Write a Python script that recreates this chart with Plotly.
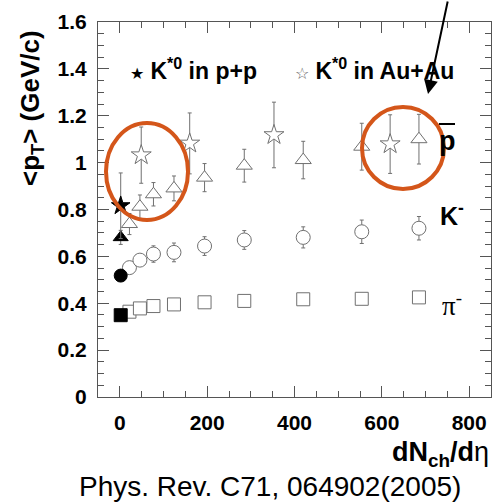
import plotly.graph_objects as go

# ---- data ----
x_pp = [2]
kstar_pp = [0.816]; kstar_pp_err = [0.14]
pbar_pp = [0.681]; pbar_pp_err = [0.03]
kminus_pp = [0.518]; kminus_pp_err = [0.02]
pion_pp = [0.349]; pion_pp_err = [0.01]

x_aa = [22, 46, 77, 124, 194, 285, 420, 554, 685]
pbar_aa = [0.738, 0.812, 0.865, 0.890, 0.936, 0.987, 1.011, 1.068, 1.100]
pbar_aa_err = [0.045, 0.05, 0.05, 0.053, 0.06, 0.07, 0.08, 0.10, 0.106]
kminus_aa = [0.552, 0.584, 0.610, 0.617, 0.644, 0.670, 0.681, 0.705, 0.720]
kminus_aa_err = [0.015, 0.02, 0.035, 0.04, 0.04, 0.04, 0.045, 0.05, 0.05]
pion_aa = [0.364, 0.378, 0.388, 0.395, 0.404, 0.410, 0.417, 0.419, 0.425]
pion_aa_err = [0.005] * 9

x_kstar_aa = [49, 160, 353, 619]
kstar_aa = [1.032, 1.082, 1.118, 1.079]
kstar_aa_err = [0.12, 0.13, 0.14, 0.125]

x_ticks = [0, 200, 400, 600, 800]
x_ticklabels = ["0", "200", "400", "600", "800"]
y_ticks = [0, 0.2, 0.4, 0.6, 0.8, 1.0, 1.2, 1.4, 1.6]
y_ticklabels = ["0", "0.2", "0.4", "0.6", "0.8", "1", "1.2", "1.4", "1.6"]

W, H = 496, 504
L, R, T, B = 98, 491, 22, 397


def px(x):
    return (x - L) / (R - L)


def py(y):
    return (B - y) / (B - T)


GRAY = "#707070"
fig = go.Figure()


def add(x, y, err, symbol, size, filled):
    fig.add_trace(go.Scatter(
        x=x, y=y, mode="markers",
        error_y=dict(type="data", array=err, color=GRAY, thickness=1, width=2),
        marker=dict(symbol=symbol, size=size,
                    color="black" if filled else "white",
                    line=dict(color="black" if filled else GRAY, width=1)),
        showlegend=False, cliponaxis=False))


add(x_aa, pion_aa, pion_aa_err, "square", 13, False)
add(x_aa, kminus_aa, kminus_aa_err, "circle", 14, False)
add(x_aa, pbar_aa, pbar_aa_err, "triangle-up", 14, False)
add(x_kstar_aa, kstar_aa, kstar_aa_err, "star", 15, False)
add(x_pp, pion_pp, pion_pp_err, "square", 13, True)
add(x_pp, kminus_pp, kminus_pp_err, "circle", 13, True)
add(x_pp, pbar_pp, pbar_pp_err, "triangle-up", 13, True)
add(x_pp, kstar_pp, kstar_pp_err, "star", 14, True)

axis_common = dict(
    showline=True, linecolor="#555", linewidth=1, mirror="ticks",
    ticks="inside", ticklen=11, tickcolor="#555", showgrid=False, zeroline=False,
    tickfont=dict(family="Liberation Sans", size=21, color="black"),
)

fig.update_xaxes(range=[-50, 850], tickvals=x_ticks,
                 ticktext=["<b>%s</b>" % t for t in x_ticklabels],
                 ticklabelstandoff=7,
                 minor=dict(dtick=50, ticks="inside", ticklen=6, tickcolor="#555"),
                 **axis_common)
fig.update_yaxes(range=[0, 1.6], tickvals=y_ticks,
                 ticktext=["<b>%s</b>" % t for t in y_ticklabels],
                 ticklabelstandoff=6,
                 minor=dict(dtick=0.05, ticks="inside", ticklen=6, tickcolor="#555"),
                 **axis_common)


def text(x, y, s, size, family="Liberation Sans", xanchor="center", angle=0):
    return dict(x=px(x), y=py(y), xref="paper", yref="paper", text=s,
                showarrow=False, xanchor=xanchor, yanchor="middle", textangle=angle,
                font=dict(family=family, size=size, color="black"))


ann = [
    text(32, 108, "<b>&lt;p<sub>T</sub>&gt; (GeV/c)</b>", 26, angle=-90),
    text(491, 454, "<b>dN<sub>ch</sub>/d</b>η", 27, xanchor="right"),
    text(270, 486, "Phys. Rev. C71, 064902(2005)", 28),
    text(128, 69, "<span style='font-size:16px'>★</span><b> K<sup>*0</sup> in p+p</b>", 23, xanchor="left"),
    text(293, 69, "<span style='font-size:16px;color:#666'>☆</span><b> K<sup>*0</sup> in Au+Au</b>", 23, xanchor="left"),
    text(447, 141, "<b>p</b>", 27),
    text(452, 214, "<b>K<sup>-</sup></b>", 25),
    text(452, 304, "π<sup>-</sup>", 27, family="Liberation Serif"),
    dict(x=px(428), y=py(94), xref="paper", yref="paper", ax=20, ay=-94,
         text="", showarrow=True, arrowhead=2, arrowsize=1.4, arrowwidth=2,
         arrowcolor="black"),
]

shapes = [
    dict(type="line", xref="paper", yref="paper", x0=px(439), x1=px(455),
         y0=py(124), y1=py(124), line=dict(color="black", width=2)),
    dict(type="circle", xref="paper", yref="paper", x0=px(106), x1=px(188),
         y0=py(220), y1=py(123), line=dict(color="#d4561a", width=4)),
    dict(type="circle", xref="paper", yref="paper", x0=px(362), x1=px(444),
         y0=py(189), y1=py(107), line=dict(color="#d4561a", width=4)),
]

fig.update_layout(
    width=W, height=H, margin=dict(l=L, r=W - R, t=T, b=H - B),
    paper_bgcolor="white", plot_bgcolor="white",
    annotations=ann, shapes=shapes, showlegend=False,
)

fig.write_html("out.html")
